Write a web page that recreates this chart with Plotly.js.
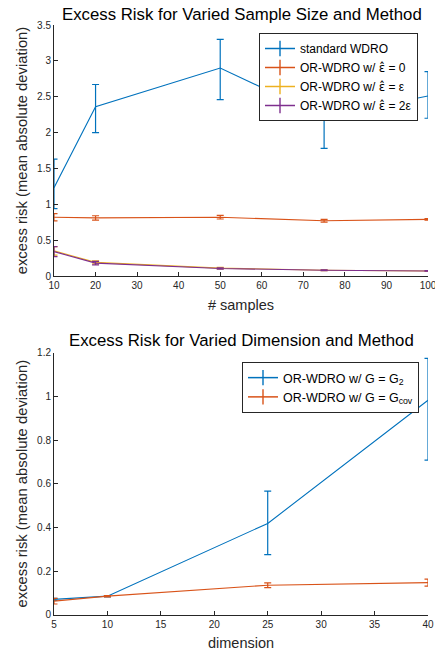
<!DOCTYPE html>
<html><head><meta charset="utf-8">
<script src="https://cdn.plot.ly/plotly-3.0.1.min.js"></script>
<style>html,body{margin:0;padding:0;background:#fff;}#chart{width:435px;height:656px;}</style>
</head><body><div id="chart"></div>
<script>
// Top chart: sample size
const samples = [10, 20, 50, 75, 100];
const stdWDRO = [1.23, 2.36, 2.90, 2.22, 2.51];
const stdWDROup = [0.40, 0.31, 0.40, 0.40, 0.34];
const stdWDROdn = [0.29, 0.36, 0.44, 0.44, 0.31];
const orEps0 = [0.82, 0.81, 0.82, 0.77, 0.79];
const orEps0Err = [0.05, 0.03, 0.025, 0.02, 0.012];
const orEps1 = [0.35, 0.19, 0.11, 0.08, 0.07];
const orEps1Err = [0.06, 0.02, 0.01, 0.006, 0.004];
const orEps2 = [0.34, 0.18, 0.105, 0.08, 0.07];
const orEps2Err = [0.07, 0.025, 0.01, 0.006, 0.004];
const EH = '<span style="font-family:DejaVu Sans">\u03b5\u0302</span>';
const topNames = ['standard WDRO', 'OR-WDRO w/ ' + EH + ' = 0', 'OR-WDRO w/ ' + EH + ' = \u03b5', 'OR-WDRO w/ ' + EH + ' = 2\u03b5'];

// Bottom chart: dimension
const dims = [5, 10, 25, 40];
const g2 = [0.07, 0.085, 0.418, 0.982];
const g2up = [0.005, 0.003, 0.148, 0.192];
const g2dn = [0.005, 0.003, 0.143, 0.274];
const gcov = [0.062, 0.085, 0.135, 0.147];
const gcovErr = [0.013, 0.003, 0.011, 0.016];
const botNames = ['OR-WDRO w/ G = G<sub>2</sub>', 'OR-WDRO w/ G = G<sub>cov</sub>'];

const C = ['#0072BD', '#D95319', '#EDB120', '#7E2F8E'];

function tr(x, y, up, dn, name, color, xa, ya) {
  return {
    x: x, y: y, name: name, type: 'scatter', mode: 'lines',
    xaxis: xa, yaxis: ya, showlegend: false,
    line: {color: color, width: 1.1},
    error_y: {type: 'data', symmetric: false, array: up, arrayminus: dn,
              color: color, thickness: 1.2, width: 3.5}
  };
}
// legend-only entries (no drawn points) showing a line with an error-bar glyph
function lg(name, color, xa, ya, leg) {
  return {x: [null], y: [null], name: name, type: 'scatter', mode: 'lines+markers',
    xaxis: xa, yaxis: ya, legend: leg, showlegend: true,
    line: {color: color, width: 1.5},
    marker: {symbol: 'line-ns', size: 11, color: color, line: {color: color, width: 1.4}}};
}

const data = [
  tr(samples, stdWDRO, stdWDROup, stdWDROdn, topNames[0], C[0], 'x', 'y'),
  tr(samples, orEps0, orEps0Err, orEps0Err, topNames[1], C[1], 'x', 'y'),
  tr(samples, orEps1, orEps1Err, orEps1Err, topNames[2], C[2], 'x', 'y'),
  tr(samples, orEps2, orEps2Err, orEps2Err, topNames[3], C[3], 'x', 'y'),
  tr(dims, g2, g2up, g2dn, botNames[0], C[0], 'x2', 'y2'),
  tr(dims, gcov, gcovErr, gcovErr, botNames[1], C[1], 'x2', 'y2'),
  lg(topNames[0], C[0], 'x', 'y', 'legend'),
  lg(topNames[1], C[1], 'x', 'y', 'legend'),
  lg(topNames[2], C[2], 'x', 'y', 'legend'),
  lg(topNames[3], C[3], 'x', 'y', 'legend'),
  lg(botNames[0], C[0], 'x2', 'y2', 'legend2'),
  lg(botNames[1], C[1], 'x2', 'y2', 'legend2')
];

const FONT = 'Liberation Sans, Arial, Helvetica, sans-serif';
const AX = '#262626';
function xax(range, dtick, title, anchor, domain) {
  return {range: range, dtick: dtick, tick0: range[0], domain: domain, anchor: anchor,
    showline: true, linecolor: AX, linewidth: 1, ticks: 'inside', ticklen: 4, tickcolor: AX,
    showgrid: false, zeroline: false, ticklabeloverflow: 'allow',
    tickfont: {size: 10, color: AX, family: FONT},
    title: {text: title, font: {size: 14.5, color: AX, family: FONT}, standoff: 9}};
}
function yax(range, dtick, domain, anchor) {
  return {range: range, dtick: dtick, tick0: 0, domain: domain, anchor: anchor,
    showline: true, linecolor: AX, linewidth: 1, ticks: 'inside', ticklen: 4, tickcolor: AX,
    showgrid: false, zeroline: false, tickfont: {size: 10, color: AX, family: FONT},
    title: {text: 'excess risk (mean absolute deviation)', font: {size: 14.8, color: AX, family: FONT}, standoff: 5}};
}

const xd = [54/435, 428/435];
const layout = {
  width: 435, height: 656, margin: {l: 0, r: 0, t: 0, b: 0},
  paper_bgcolor: '#fff', plot_bgcolor: '#fff', font: {family: FONT, color: AX},
  showlegend: true,
  xaxis: xax([10, 100], 10, '# samples', 'y', xd),
  yaxis: yax([0, 3.5], 0.5, [1 - 276/656, 1 - 25/656], 'x'),
  xaxis2: xax([5, 40], 5, 'dimension', 'y2', xd),
  yaxis2: yax([0, 1.2], 0.2, [1 - 614.7/656, 1 - 352.7/656], 'x2'),
  legend: {x: 418/435, y: 1 - 33/656, xanchor: 'right', yanchor: 'top',
    bgcolor: '#fff', bordercolor: AX, borderwidth: 1, font: {size: 12, color: '#000', family: FONT},
    tracegroupgap: 0, itemwidth: 30},
  legend2: {x: 419/435, y: 1 - 362/656, xanchor: 'right', yanchor: 'top',
    bgcolor: '#fff', bordercolor: AX, borderwidth: 1, font: {size: 12.5, color: '#000', family: FONT},
    tracegroupgap: 0, itemwidth: 30},
  annotations: [
    {text: 'Excess Risk for Varied Sample Size and Method', xref: 'paper', yref: 'paper',
     x: 242/435, y: 1 - 15/656, xanchor: 'center', yanchor: 'middle', showarrow: false,
     font: {size: 16.8, color: '#000', family: FONT}},
    {text: 'Excess Risk for Varied Dimension and Method', xref: 'paper', yref: 'paper',
     x: 242/435, y: 1 - 340/656, xanchor: 'center', yanchor: 'middle', showarrow: false,
     font: {size: 16.8, color: '#000', family: FONT}}
  ]
};
Plotly.newPlot('chart', data, layout, {displayModeBar: false, staticPlot: true});
</script></body></html>
